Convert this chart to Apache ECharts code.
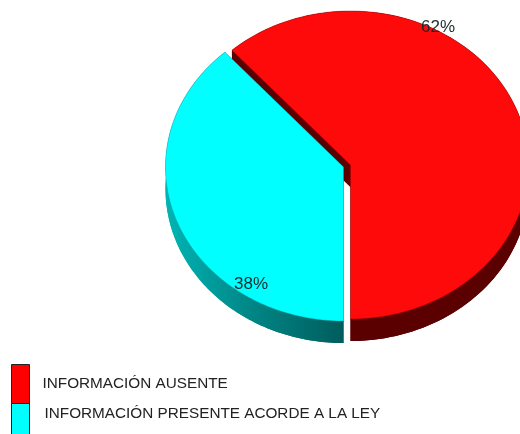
<!DOCTYPE html>
<html lang="es">

<head>
    <meta charset="UTF-8">
    <title>Información</title>
    <style>
        html, body { margin: 0; padding: 0; background: #fff; }
        #myChart { width: 520px; height: 434px; filter: blur(0.45px); }
    </style>
</head>

<body>
    <div id="myChart"></div>
    <script src="https://cdn.jsdelivr.net/npm/echarts@6/dist/echarts.min.js"></script>
    <script>
        const categories = ['INFORMACIÓN AUSENTE', 'INFORMACIÓN PRESENTE ACORDE A LA LEY'];
        // slice sizes as measured on the picture, the labels show them rounded
        const percents = [61.6, 38.4];

        const total = percents.reduce((a, b) => a + b, 0);
        const RX = 178, RY = 154, DEPTH = 22;

        // how each slice is drawn; angles run from 12 o'clock, clockwise
        const sliceStyle = [
            { cx: 350.5, cy: 165, top: '#ff0a0a', border: '#a00000', side: '#5a0000', labelX: 438, labelY: 27 },
            { cx: 343.5, cy: 167, top: '#00ffff', border: '#0aa0a0',
              side: new echarts.graphic.LinearGradient(166, 0, 344, 0, [
                  { offset: 0, color: '#00b4b4' },
                  { offset: 0.5, color: '#008484' },
                  { offset: 1, color: '#005c5c' }
              ], true),
              labelX: 251, labelY: 284 }
        ];

        function sliceAngles(i) {
            // both slices meet at 6 o'clock: red runs backwards from it, cyan forwards
            const sweep = percents[i] / total * 2 * Math.PI;
            return i === 0 ? [Math.PI - sweep, Math.PI] : [Math.PI, Math.PI + sweep];
        }

        function arcPoints(s, a0, a1, dy) {
            const pts = [];
            const n = 120;
            for (let k = 0; k <= n; k++) {
                const a = a0 + (a1 - a0) * k / n;
                pts.push([s.cx + RX * Math.sin(a), s.cy - RY * Math.cos(a) + dy]);
            }
            return pts;
        }

        function renderSlice(params, api) {
            const i = api.value(0);
            const s = sliceStyle[i];
            const [a0, a1] = sliceAngles(i);
            const apex = [s.cx, s.cy];
            const apexLow = [s.cx, s.cy + DEPTH];
            const rim = arcPoints(s, a0, a1, 0);
            const rimLow = arcPoints(s, a0, a1, DEPTH);
            const side = { fill: s.side };
            return {
                type: 'group',
                children: [
                    { type: 'polygon', shape: { points: [apexLow].concat(rimLow) }, style: side },
                    { type: 'polygon', shape: { points: rim.concat(rimLow.slice().reverse()) }, style: side },
                    { type: 'polygon', shape: { points: [apex, rim[0], rimLow[0], apexLow] }, style: side },
                    { type: 'polygon', shape: { points: [apex, rim[rim.length - 1], rimLow[rimLow.length - 1], apexLow] }, style: side },
                    {
                        type: 'polygon',
                        shape: { points: [apex].concat(rim) },
                        style: { fill: s.top, stroke: s.border, lineWidth: 0.4 }
                    },
                    {
                        type: 'text',
                        x: s.labelX,
                        y: s.labelY,
                        style: {
                            text: Math.round(api.value(1)) + '%',
                            fill: '#1c2a2a',
                            font: '17px "Liberation Sans", Arial, sans-serif',
                            align: 'center',
                            verticalAlign: 'middle'
                        }
                    }
                ]
            };
        }

        const legendText = { color: '#222', fontFamily: 'Liberation Sans', fontSize: 15.3 };

        let myEchart = echarts.init(document.getElementById('myChart'), null, { renderer: 'canvas' });
        myEchart.setOption({
            animation: false,
            backgroundColor: '#fff',
            color: ['#ff0000', '#00ffff'],
            legend: [{
                left: 11, top: 364, padding: 0,
                itemWidth: 18, itemHeight: 39,
                icon: 'rect', selectedMode: false,
                itemStyle: { borderColor: '#222', borderWidth: 1 },
                textStyle: Object.assign({}, legendText, { padding: [0, 0, 0, 8] }),
                data: [categories[0]]
            }, {
                left: 11, top: 403, padding: 0,
                itemWidth: 18, itemHeight: 39,
                icon: 'rect', selectedMode: false,
                itemStyle: { borderColor: '#222', borderWidth: 1 },
                // blank second line lifts the text above the middle of the tall swatch
                formatter: name => name + '\n ',
                textStyle: Object.assign({}, legendText, { lineHeight: 19, padding: [0, 0, 0, 10] }),
                data: [categories[1]]
            }],
            series: categories.map((name, i) => ({
                type: 'custom',
                name: name,
                coordinateSystem: 'none',
                silent: true,
                renderItem: renderSlice,
                data: [[i, percents[i]]]
            }))
        });
    </script>
</body>

</html>
